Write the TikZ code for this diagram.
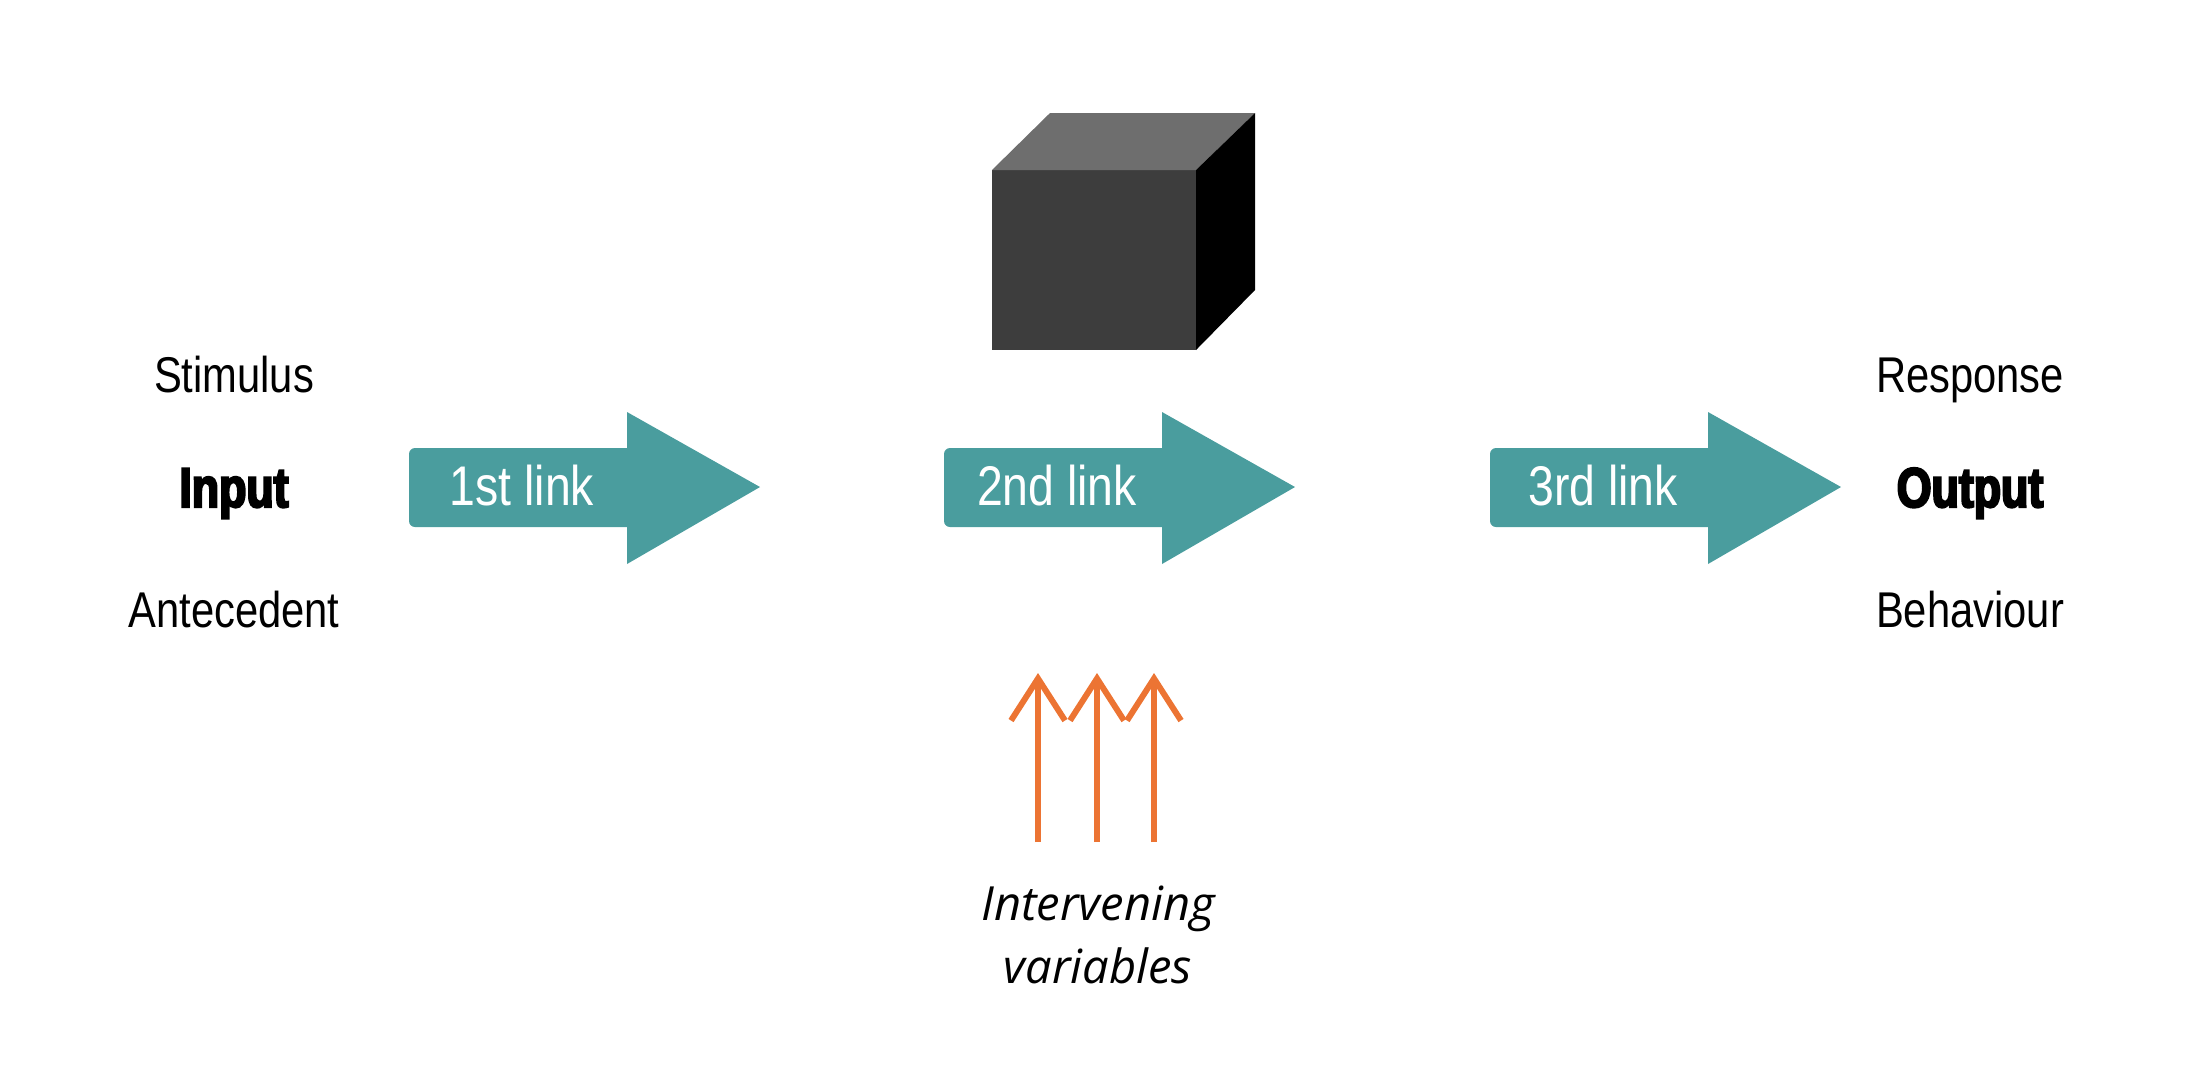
\documentclass[tikz,border=0pt]{standalone}
\usepackage{fontspec}
\usetikzlibrary{positioning,arrows.meta}
\newfontfamily\condfont[FakeStretch=0.83]{Liberation Sans}
\newfontfamily\heavyfont[FakeStretch=0.8,FakeBold=4]{Liberation Sans Bold}
\newfontfamily\varfont{Open Sans}
\definecolor{linkteal}{HTML}{4A9D9E}
\definecolor{varorange}{HTML}{EC7433}
\definecolor{cubefront}{HTML}{3D3D3D}
\definecolor{cubetop}{HTML}{6E6E6E}

\begin{document}
\begin{tikzpicture}[
	x=0.1mm, y=-0.1mm,
	term/.style = {anchor=base, inner sep=0pt,
		font=\condfont\fontsize{14.3}{17}\selectfont},
	keyterm/.style = {anchor=base, inner sep=0pt,
		font=\heavyfont\fontsize{15.9}{19}\selectfont},
	linktext/.style = {inner sep=0pt, text=white,
		font=\condfont\fontsize{15.9}{19}\selectfont},
	link/.style = {fill=linkteal},
	varline/.style = {line width=1.7pt, draw=varorange,
		-{Straight Barb[length=4.2mm,width=5.4mm]}},
	vartext/.style = {anchor=base, inner sep=0pt,
		font=\varfont\itshape\fontsize{13.4}{17}\selectfont}
	]
	\useasboundingbox (0,0) rectangle (2210,1072);
	
	% black box
	\fill[cubefront] (992,170) rectangle (1196,350);
	\fill[cubetop] (992,170) -- (1050,113) -- (1255,113) -- (1196,170) -- cycle;
	\fill[black] (1196,170) -- (1255,113) -- (1255,290) -- (1196,350) -- cycle;
	
	% links
	\foreach \x/\t [count=\i] in {409/1st link, 944/2nd link, 1490/3rd link} {
		\fill[link, rounded corners=1.7pt] (\x,448) rectangle (\x+230,527);
		\fill[link] (\x+218,412) -- (\x+351,487) -- (\x+218,564) -- cycle;
		\node[linktext] (link\i) at (\x+113,486) {\t};
	}
	
	\node[term] (stim) at (234,392) {Stimulus};
	\node[keyterm] (input) at (234,507) {Input};
	\node[term] (ante) at (234,627) {Antecedent};
	\node[term] (resp) at (1970,392) {Response};
	\node[keyterm] (output) at (1970,507) {Output};
	\node[term] (behav) at (1970,627) {Behaviour};
	
	% intervening variables
	\foreach \x [count=\i] in {1038,1097,1154} {
		\coordinate (vtop\i) at (\x,673);
		\coordinate (vbot\i) at (\x,842);
		\draw[varline] (vbot\i) -- (vtop\i);
	}
	\node[vartext] (ivar) at (1098,920) {Intervening};
	\node[vartext] (vars) at (1098,983) {variables};
\end{tikzpicture}
\end{document}
